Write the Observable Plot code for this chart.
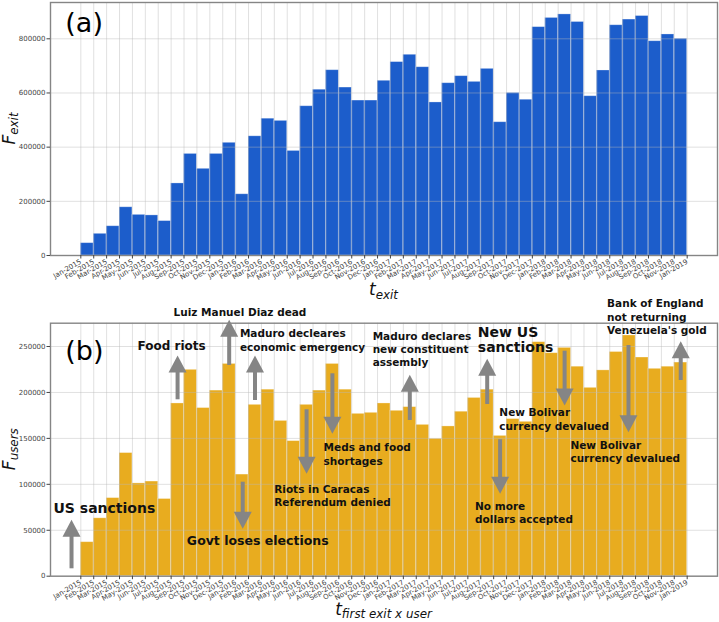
<!DOCTYPE html>
<html>
<head>
<meta charset="utf-8">
<script src="https://cdn.jsdelivr.net/npm/d3@7"></script>
<script src="https://cdn.jsdelivr.net/npm/@observablehq/plot@0.6"></script>
<style>
  body { margin: 0; background: #fff; }
  #chart { position: relative; width: 719px; height: 622px; font-family: "DejaVu Sans", sans-serif; }
  #chart svg { display: block; overflow: visible; }
</style>
</head>
<body>
<div id="chart"></div>
<script>
// ---------------- DATA ----------------
const monthLabels = [
  "Jan-2015","Feb-2015","Mar-2015","Apr-2015","May-2015","Jun-2015","Jul-2015","Aug-2015","Sep-2015","Oct-2015","Nov-2015","Dec-2015",
  "Jan-2016","Feb-2016","Mar-2016","Apr-2016","May-2016","Jun-2016","Jul-2016","Aug-2016","Sep-2016","Oct-2016","Nov-2016","Dec-2016",
  "Jan-2017","Feb-2017","Mar-2017","Apr-2017","May-2017","Jun-2017","Jul-2017","Aug-2017","Sep-2017","Oct-2017","Nov-2017","Dec-2017",
  "Jan-2018","Feb-2018","Mar-2018","Apr-2018","May-2018","Jun-2018","Jul-2018","Aug-2018","Sep-2018","Oct-2018","Nov-2018",
  "Jan-2019"
];

// (a) F_exit per monthly bin (bins between consecutive tick labels)
const exitValues = [
  45500, 80000, 108000, 178000, 150000, 148000, 127000, 266000, 375000, 320000, 375000, 416000,
  226000, 440000, 505000, 497000, 386000, 551000, 612000, 684000, 620000, 572000, 572000, 645000,
  714000, 741000, 695000, 565000, 636000, 662000, 641000, 689000, 492000, 600000, 575000, 843000,
  877000, 890000, 862000, 588000, 683000, 850000, 871000, 884000, 791000, 816000, 800000
];

// (b) F_users per monthly bin
const userValues = [
  37000, 63000, 85000, 134000, 101000, 103000, 84000, 188000, 224600, 183000, 202000, 231000,
  110600, 186500, 203000, 169000, 147000, 186500, 202000, 231000, 203000, 176700, 177800, 188000,
  180000, 184000, 164700, 149500, 163000, 179000, 194000, 203000, 152700, 171000, 168000, 254700,
  242700, 248500, 228000, 205000, 224000, 244000, 262000, 238000, 225700, 228000, 232500
];

const yTicksExit = [0, 200000, 400000, 600000, 800000];
const yTicksUsers = [0, 50000, 100000, 150000, 200000, 250000];

// annotation texts (panel b), anchored in data space (bin index, F_users)
const annTexts = [
  "US sanctions", "Govt loses elections", "Food riots", "Luiz Manuel Diaz dead",
  "Maduro decleares\neconomic emergency", "Meds and food\nshortages", "Riots in Caracas\nReferendum denied",
  "Maduro declares\nnew constituent\nassembly", "New US\nsanctions", "New Bolivar\ncurrency devalued",
  "New Bolivar\ncurrency devalued", "No more\ndollars accepted", "Bank of England\nnot returning\nVenezuela's gold"
];
const annX = [-2.12, 8.22, 4.40, 7.19, 12.33, 18.82, 14.99, 22.62, 30.77, 32.44, 37.95, 30.56, 40.79];
const annY = [79450, 43200, 255450, 291000, 268200, 144100, 98700, 265600, 271000, 182200, 146900, 80540, 300800];

// arrows (panel b): bin position, tail value, tip value
const arrowX    = [-0.72, 7.5, 11.5, 12.55, 13.5, 17.5, 19.5, 25.5, 31.5, 32.5, 37.5, 42.45, 46.5];
const arrowFrom = [8050, 192000, 229300, 102300, 191200, 181100, 220300, 169500, 186900, 148500, 244900, 251100, 213000];
const arrowTo   = [61400, 240200, 279100, 51600, 240200, 111500, 155000, 219200, 236600, 89700, 185800, 156700, 255800];

// ---------------- STYLE ----------------
const annFontSize = [14, 12.5, 12, 10.5, 10.5, 10.5, 10.5, 10.5, 14, 10.5, 10.5, 10.5, 10.5];
const W = 719, ML = 50, MR = 2;
const XDOMAIN = [-2.35, 49.35];
const BLUE = "#1c5dcb", ORANGE = "#e8ac1f", ARROW = "#858585";
const FONT = "DejaVu Sans";

const bins = (vals) => vals.map((v, i) => ({i, v}));

function addLabel(svg, main, sub, x, y, rotate, size) {
  const t = d3.select(svg).append("text")
    .attr("transform", `translate(${x},${y}) rotate(${rotate})`)
    .attr("text-anchor", "middle")
    .attr("font-family", FONT)
    .attr("font-style", "italic")
    .attr("font-size", size)
    .attr("fill", "#111");
  t.append("tspan").text(main);
  t.append("tspan").attr("font-size", size * 0.7).attr("dy", size * 0.23).text(sub);
}

function commonMarks(vals, color, yTicks) {
  return [
    Plot.rectY(bins(vals), {x1: "i", x2: d => d.i + 1, y: "v", fill: color, stroke: "#ffffff", strokeOpacity: 0.35, strokeWidth: 0.8}),
    Plot.gridX(d3.range(monthLabels.length), {stroke: "#b8b8b8", strokeOpacity: 0.55, strokeWidth: 0.8}),
    Plot.gridY(yTicks, {stroke: "#b8b8b8", strokeOpacity: 0.55, strokeWidth: 0.8}),
    Plot.frame({stroke: "#858585", strokeWidth: 1.4}),
    Plot.axisX(d3.range(monthLabels.length), {
      tickFormat: d => monthLabels[d], tickRotate: -30, tickSize: 3.5, tickPadding: 2,
      fontSize: 7, label: null, fill: "#444", stroke: "#444"
    }),
    Plot.axisY(yTicks, {
      tickFormat: d => String(d), tickSize: 3.5, tickPadding: 1.5,
      fontSize: 7, label: null, fill: "#444", stroke: "#444"
    })
  ];
}

// ---------------- PANEL (a) ----------------
const H1 = 300, MT1 = 2, MB1 = 45, YMAX1 = 934000;
const plotA = Plot.plot({
  width: W, height: H1, marginLeft: ML, marginRight: MR, marginTop: MT1, marginBottom: MB1,
  style: {fontFamily: FONT, background: "transparent", overflow: "visible"},
  x: {type: "linear", domain: XDOMAIN},
  y: {domain: [0, YMAX1]},
  marks: [
    ...commonMarks(exitValues, BLUE, yTicksExit),
    Plot.text(["(a)"], {x: -1.2, y: 896300, text: d => d, textAnchor: "start", lineAnchor: "top", fontSize: 27, fill: "#000"})
  ]
});

// ---------------- PANEL (b) ----------------
const H2 = 322, MT2 = 22.7, MB2 = 46.3, YMAX2 = 275360;
const pxPerUnit2 = (H2 - MT2 - MB2) / YMAX2;
const HEAD_LEN = 17, HEAD_HALF = 9;
const headUp = {draw(ctx) { ctx.moveTo(0, 0); ctx.lineTo(HEAD_HALF, HEAD_LEN); ctx.lineTo(-HEAD_HALF, HEAD_LEN); ctx.closePath(); }};
const headDown = {draw(ctx) { ctx.moveTo(0, 0); ctx.lineTo(HEAD_HALF, -HEAD_LEN); ctx.lineTo(-HEAD_HALF, -HEAD_LEN); ctx.closePath(); }};

const arrows = arrowX.map((x, k) => ({x, from: arrowFrom[k], to: arrowTo[k], up: arrowTo[k] > arrowFrom[k]}));
const annotations = annTexts.map((text, k) => ({text, x: annX[k], y: annY[k], size: annFontSize[k], lines: text.split("\n").length}));

const annMarks = annotations.map(a => {
  const lh = a.lines > 1 ? (a.size >= 14 ? 1.03 : 1.27) : 1;
  return Plot.text([a], {
    x: "x", y: "y", text: "text", textAnchor: "start", lineAnchor: "top",
    fontSize: a.size, fontWeight: "bold", fill: "#111", lineHeight: lh,
    dy: -(0.71 * lh - 0.71) * a.size
  });
});

const plotB = Plot.plot({
  width: W, height: H2, marginLeft: ML, marginRight: MR, marginTop: MT2, marginBottom: MB2,
  style: {fontFamily: FONT, background: "transparent", overflow: "visible"},
  x: {type: "linear", domain: XDOMAIN},
  y: {domain: [0, YMAX2]},
  marks: [
    ...commonMarks(userValues, ORANGE, yTicksUsers),
    Plot.text(["(b)"], {x: -1.2, y: 256000, text: d => d, textAnchor: "start", lineAnchor: "top", fontSize: 27, fill: "#000"}),
    Plot.ruleX(arrows, {
      x: "x", y1: "from",
      y2: d => d.to - (d.up ? 1 : -1) * (HEAD_LEN - 2) / pxPerUnit2,
      stroke: ARROW, strokeWidth: 4
    }),
    Plot.dot(arrows.filter(d => d.up), {x: "x", y: "to", symbol: headUp, fill: ARROW, stroke: "none", r: 6}),
    Plot.dot(arrows.filter(d => !d.up), {x: "x", y: "to", symbol: headDown, fill: ARROW, stroke: "none", r: 6}),
    ...annMarks
  ]
});

const chart = document.getElementById("chart");
chart.appendChild(plotA);
chart.appendChild(plotB);

const cx = (ML + W - MR) / 2;
addLabel(plotA, "F", "exit", 14.5, MT1 + (H1 - MT1 - MB1) / 2, -90, 17);
addLabel(plotA, "t", "exit", cx, 295, 0, 17);
addLabel(plotB, "F", "users", 14.5, MT2 + (H2 - MT2 - MB2) / 2, -90, 17);
addLabel(plotB, "t", "first exit x user", cx, 314.5, 0, 17);
</script>
</body>
</html>
